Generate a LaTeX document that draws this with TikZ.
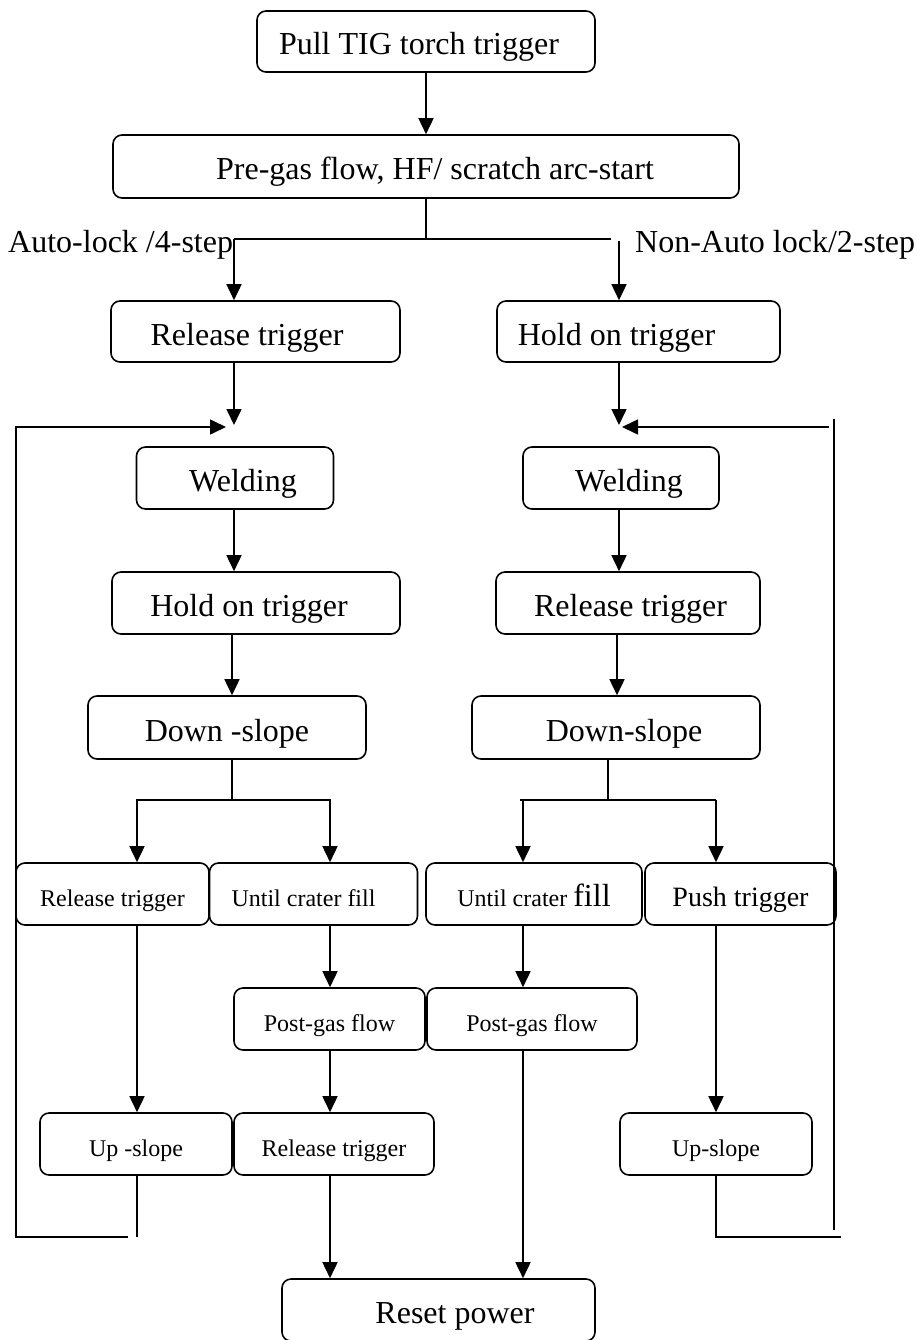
\documentclass[tikz,border=0pt]{standalone}
\usepackage{fontspec}
\setmainfont{Liberation Serif}
\usetikzlibrary{arrows.meta}
\newcommand\szL{\fontsize{32}{38}\selectfont}
\newcommand\szM{\fontsize{28}{34}\selectfont}
\newcommand\szS{\fontsize{24}{29}\selectfont}
\begin{document}
\begin{tikzpicture}[x=1pt,y=-1pt,
  box/.style={draw, line width=1.6pt, rounded corners=9pt, inner sep=0pt, align=center, text height=27pt, text depth=0pt},
  sbox/.style={box, text height=25pt},
  arr/.style={line width=1.6pt, -{Triangle[length=16pt,width=15pt]}},
  thickline/.style={line width=1.8pt},
  thinline/.style={line width=1.1pt},
  lbl/.style={inner sep=0pt, font=\szL}]
\useasboundingbox (0,0) rectangle (917,1340);

% boxes
\node[box, minimum width=338pt, minimum height=61pt, font=\szL] (b1) at (426,41.5) {Pull TIG torch trigger\hspace*{14pt}};
\node[box, minimum width=626pt, minimum height=63pt, font=\szL] (b2) at (426,166.5) {\hspace*{18pt}Pre-gas flow, HF/ scratch arc-start};
\node[box, minimum width=289pt, minimum height=61pt, font=\szL] (L1) at (255.5,331.5) {Release trigger\hspace*{17pt}};
\node[box, minimum width=283pt, minimum height=61pt, font=\szL] (R1) at (638.5,331.5) {Hold on trigger\hspace*{44pt}};
\node[box, minimum width=197pt, minimum height=62pt, font=\szL] (WL) at (235,478) {\hspace*{16pt}Welding};
\node[box, minimum width=196pt, minimum height=62pt, font=\szL] (WR) at (621,478) {\hspace*{16pt}Welding};
\node[box, minimum width=288pt, minimum height=62pt, font=\szL] (HL) at (256,603) {Hold on trigger\hspace*{14pt}};
\node[box, minimum width=264pt, minimum height=62pt, font=\szL] (RR) at (628,603) {\hspace*{5pt}Release trigger};
\node[box, minimum width=278pt, minimum height=63pt, font=\szL] (DL) at (227,727.5) {Down -slope};
\node[box, minimum width=288pt, minimum height=63pt, font=\szL] (DR) at (616,727.5) {\hspace*{16pt}Down-slope};

\node[sbox, minimum width=193pt, minimum height=62pt, font=\szS] (r1) at (112.5,894) {Release trigger};
\node[sbox, minimum width=208pt, minimum height=62pt, font=\szS] (r2) at (313.5,894) {Until crater fill\hspace*{20pt}};
\node[sbox, minimum width=216pt, minimum height=62pt, font=\szS] (r3) at (534,894) {Until crater {\szL fill}};
\node[sbox, minimum width=191pt, minimum height=62pt, font=\szM] (r4) at (740.5,894) {Push trigger};

\node[sbox, minimum width=191pt, minimum height=62pt, font=\szS] (p1) at (329.5,1019) {Post-gas flow};
\node[sbox, minimum width=210pt, minimum height=62pt, font=\szS] (p2) at (532,1019) {Post-gas flow};

\node[sbox, minimum width=192pt, minimum height=62pt, font=\szS] (u1) at (136,1144) {Up -slope};
\node[sbox, minimum width=200pt, minimum height=62pt, font=\szS] (rt) at (334,1144) {Release trigger};
\node[sbox, minimum width=192pt, minimum height=62pt, font=\szS] (u2) at (716,1144) {Up-slope};

\node[box, minimum width=313pt, minimum height=62pt, font=\szL] (rp) at (438.5,1310) {\hspace*{33pt}Reset power};

% labels
\node[lbl, anchor=base west] (la) at (8,253) {Auto-lock /4-step};
\node[lbl, anchor=base west] (lb) at (635,253) {Non-Auto lock/2-step};

% column coordinates
\coordinate (cA) at (234,0);
\coordinate (cA2) at (232,0);
\coordinate (cB) at (619,0);
\coordinate (cB2) at (617,0);
\coordinate (cD) at (608,0);
\coordinate (c1) at (137,0);
\coordinate (c2) at (330,0);
\coordinate (c3) at (523,0);
\coordinate (c4) at (716,0);

% junction coordinates
\coordinate (jTop) at (426,239);
\coordinate (hL) at (234,239);
\coordinate (hR) at (611,239);
\coordinate (vR) at (619,241);
\coordinate (jL) at (234,425);
\coordinate (jR) at (619,425);
\coordinate (jDL) at (232,800);
\coordinate (hDL1) at (136,800);
\coordinate (hDL2) at (331,800);
\coordinate (jDR) at (608,800);
\coordinate (hDR1) at (520,800);
\coordinate (hDR2) at (716,800);
\coordinate (loopLend) at (128,1237);
\coordinate (loopLcornerB) at (16,1237);
\coordinate (loopLcornerT) at (16,427);
\coordinate (loopLtip) at (226,427);
\coordinate (u1end) at (137,1237);
\coordinate (u2corner) at (716,1237);
\coordinate (loopRend) at (841,1237);
\coordinate (loopRtop) at (834,419);
\coordinate (loopRbot) at (834,1230);
\coordinate (loopRstart) at (829,427);
\coordinate (loopRtip) at (622,427);

% connectors top
\draw[arr] (b1.south) -- (b2.north);
\draw[thinline] (b2.south) -- (jTop);
\draw[thickline] (hL) -- (hR);
\draw[arr] (hL) -- (cA |- L1.north);
\draw[arr] (vR) -- (cB |- R1.north);
\draw[arr] (cA |- L1.south) -- (jL);
\draw[arr] (cB |- R1.south) -- (jR);

% loops
\draw[arr] (loopLend) -- (loopLcornerB) -- (loopLcornerT) -- (loopLtip);
\draw[thinline] (c1 |- u1.south) -- (u1end);
\draw[thickline] (c4 |- u2.south) -- (u2corner) -- (loopRend);
\draw[thinline] (loopRtop) -- (loopRbot);
\draw[arr] (loopRstart) -- (loopRtip);

% middle
\draw[arr] (cA |- WL.south) -- (cA |- HL.north);
\draw[arr] (cB |- WR.south) -- (cB |- RR.north);
\draw[arr] (cA2 |- HL.south) -- (cA2 |- DL.north);
\draw[arr] (cB2 |- RR.south) -- (cB2 |- DR.north);

\draw[thinline] (cA2 |- DL.south) -- (jDL);
\draw[thickline] (hDL1) -- (hDL2);
\draw[arr] (c1 |- hDL1) -- (c1 |- r1.north);
\draw[arr] (c2 |- hDL1) -- (c2 |- r2.north);
\draw[thinline] (cD |- DR.south) -- (jDR);
\draw[thickline] (hDR1) -- (hDR2);
\draw[arr] (c3 |- hDR1) -- (c3 |- r3.north);
\draw[arr] (c4 |- hDR1) -- (c4 |- r4.north);

% lower
\draw[arr] (c1 |- r1.south) -- (c1 |- u1.north);
\draw[arr] (c2 |- r2.south) -- (c2 |- p1.north);
\draw[arr] (c3 |- r3.south) -- (c3 |- p2.north);
\draw[arr] (c4 |- r4.south) -- (c4 |- u2.north);
\draw[arr] (c2 |- p1.south) -- (c2 |- rt.north);
\draw[arr] (c2 |- rt.south) -- (c2 |- rp.north);
\draw[arr] (c3 |- p2.south) -- (c3 |- rp.north);
\end{tikzpicture}
\end{document}
